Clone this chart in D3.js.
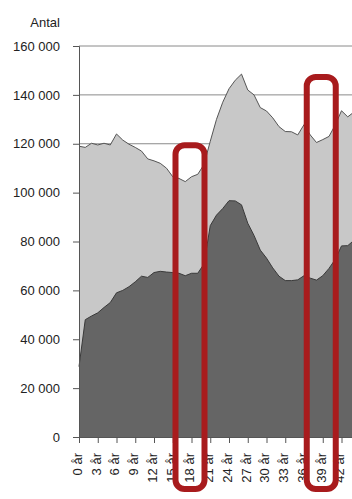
<!DOCTYPE html>
<html>
<head>
<meta charset="utf-8">
<script src="https://cdn.jsdelivr.net/npm/d3@7"></script>
<style>
  body { margin: 0; background: #fff; }
  text { font-family: "Liberation Sans", Arial, sans-serif; }
</style>
</head>
<body>
<div id="chart"></div>
<script>
const width = 352;
const height = 499;
const margin = {top: 46, right: 0, bottom: 62, left: 79};

// ages 0..44 (chart is cut at the right edge)
const ages = d3.range(0, 45);
const tickAges = [0, 3, 6, 9, 12, 15, 18, 21, 24, 27, 30, 33, 36, 39, 42];
const yTicks = [0, 20000, 40000, 60000, 80000, 100000, 120000, 140000, 160000];

// light grey (total) and dark grey series
const totalValues = [119000, 118500, 120200, 119500, 120200, 119500, 124000, 121500, 119800, 118500,
  117000, 113800, 113000, 112000, 110000, 106500, 105800, 104500, 106500, 107500,
  111500, 121000, 130000, 137000, 142500, 146000, 148500, 142000, 140000, 134800,
  133400, 130600, 127000, 125000, 124900, 123600, 127800, 123600, 120500, 121700,
  123000, 127700, 133500, 131000, 133000];
const darkValues = [28800, 48000, 49500, 50800, 53000, 55000, 59000, 60000, 61500, 63500,
  65800, 65300, 67300, 67800, 67500, 67300, 67000, 66000, 67000, 67000,
  70800, 86500, 90800, 93500, 96700, 96600, 95000, 87500, 82500, 76500,
  73200, 69200, 65800, 64000, 64000, 64300, 66000, 65000, 64200, 66000,
  69000, 72700, 78200, 78300, 80500];

// red boxes around two ages
const highlights = [{age: 18, top: 120600}, {age: 39, top: 148500}];

const svg = d3.select("#chart").append("svg")
  .attr("width", width)
  .attr("height", height);

const plotH = height - margin.top - margin.bottom;
const x = d3.scaleLinear().domain([0, 44]).range([margin.left, margin.left + 44 * 6.25]);
const y = d3.scaleLinear().domain([0, 160000]).range([margin.top + plotH, margin.top]);

// gridlines
svg.append("g")
  .selectAll("line")
  .data(yTicks.filter(d => d > 0))
  .join("line")
    .attr("x1", margin.left)
    .attr("x2", width)
    .attr("y1", d => y(d))
    .attr("y2", d => y(d))
    .attr("stroke", "#8a8a8a")
    .attr("stroke-width", 1);

const area = d3.area()
  .x((d, i) => x(ages[i]))
  .y0(y(0))
  .y1(d => y(d));
const line = d3.line()
  .x((d, i) => x(ages[i]))
  .y(d => y(d));

svg.append("path")
  .datum(totalValues)
  .attr("d", area)
  .attr("fill", "#c8c8c8");
svg.append("path")
  .datum(totalValues)
  .attr("d", line)
  .attr("fill", "none")
  .attr("stroke", "#555")
  .attr("stroke-width", 1);

svg.append("path")
  .datum(darkValues)
  .attr("d", area)
  .attr("fill", "#656565");
svg.append("path")
  .datum(darkValues)
  .attr("d", line)
  .attr("fill", "none")
  .attr("stroke", "#3a3a3a")
  .attr("stroke-width", 1);

// y axis
const yAxis = svg.append("g")
  .attr("transform", `translate(${margin.left},0)`)
  .call(d3.axisLeft(y).tickValues(yTicks).tickSize(6).tickPadding(13)
    .tickFormat(d => d3.format(",")(d).replace(/,/g, " ")));
yAxis.selectAll("text").attr("font-size", 13).attr("fill", "#222").attr("font-family", "Liberation Sans, Arial, sans-serif");
yAxis.selectAll("line, path").attr("stroke", "#555");

// x axis
const xAxis = svg.append("g")
  .attr("transform", `translate(0,${y(0)})`)
  .call(d3.axisBottom(x).tickValues(tickAges).tickSize(6).tickSizeOuter(0)
    .tickFormat(d => d + " år"));
xAxis.select(".domain").attr("d", `M${margin.left},0.5H${width}`);
xAxis.selectAll("line, path").attr("stroke", "#555");
xAxis.selectAll("text")
  .attr("font-size", 13)
  .attr("fill", "#222")
  .attr("font-family", "Liberation Sans, Arial, sans-serif")
  .attr("transform", "rotate(-90)")
  .attr("text-anchor", "end")
  .attr("x", -16)
  .attr("y", 0)
  .attr("dy", "0.18em");

// y title
svg.append("text")
  .attr("x", 60)
  .attr("y", 27)
  .attr("text-anchor", "end")
  .attr("font-size", 13)
  .attr("fill", "#222")
  .text("Antal");

// highlight boxes
svg.append("g")
  .selectAll("rect")
  .data(highlights)
  .join("rect")
    .attr("x", d => x(d.age) - 16)
    .attr("width", 29)
    .attr("y", d => y(d.top) + 3)
    .attr("height", d => 489 - (y(d.top) + 3))
    .attr("rx", 9)
    .attr("fill", "none")
    .attr("stroke", "#a81b1d")
    .attr("stroke-width", 6);
</script>
</body>
</html>
